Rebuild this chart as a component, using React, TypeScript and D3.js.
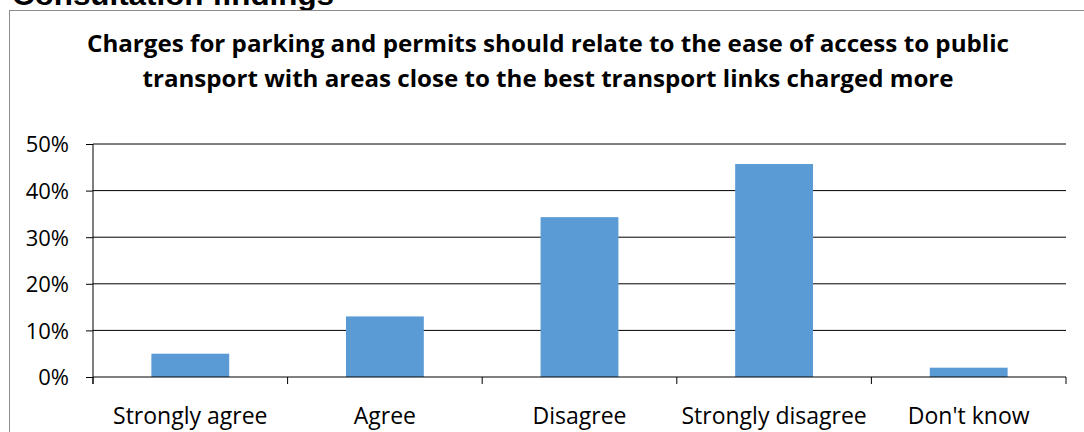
import { useEffect, useRef } from "react"
import * as d3 from "d3"

const categories = ["Strongly agree", "Agree", "Disagree", "Strongly disagree", "Don't know"]
const values = [5.0, 13.0, 34.3, 45.7, 2.0]
const yTicks = [0, 10, 20, 30, 40, 50]
const pageTitle = "Consultation findings"
const titleLines = [
  "Charges for parking and permits should relate to the ease of access to public",
  "transport with areas close to the best transport links charged more",
]

const W = 1084
const H = 432

const App = () => {
  const ref = useRef<SVGSVGElement>(null)

  useEffect(() => {
    const svg = d3.select(ref.current)
    svg.selectAll("*").remove()

    const margin = { top: 144, right: 18, bottom: 55, left: 93 }
    const innerW = W - margin.left - margin.right
    const innerH = H - margin.top - margin.bottom

    // page heading, partly cut off at the top
    svg.append("text")
      .attr("x", 12)
      .attr("y", 5)
      .attr("font-family", "Liberation Sans, Arial, sans-serif")
      .attr("font-weight", "bold")
      .attr("font-size", 30)
      .attr("textLength", 322)
      .attr("lengthAdjust", "spacingAndGlyphs")
      .attr("fill", "#000")
      .text(pageTitle)

    // chart frame
    svg.append("rect")
      .attr("x", 9.5)
      .attr("y", 10.5)
      .attr("width", W + 20)
      .attr("height", H + 20)
      .attr("fill", "none")
      .attr("stroke", "#8c8c8c")
      .attr("stroke-width", 1)

    const titleWidths = [922, 811]
    svg.append("g")
      .selectAll("text")
      .data(titleLines)
      .join("text")
      .attr("x", 548)
      .attr("y", (d, i) => 52 + i * 35)
      .attr("text-anchor", "middle")
      .attr("font-family", "Open Sans, sans-serif")
      .attr("font-weight", "bold")
      .attr("font-size", 24)
      .attr("textLength", (d, i) => titleWidths[i])
      .attr("lengthAdjust", "spacingAndGlyphs")
      .attr("fill", "#000")
      .text(d => d)

    const x = d3.scaleBand<string>()
      .domain(categories)
      .range([0, innerW])
      .paddingInner(0.6)
      .paddingOuter(0.3)

    const y = d3.scaleLinear().domain([0, 50]).range([innerH, 0])

    const g = svg.append("g").attr("transform", `translate(${margin.left},${margin.top})`)

    // gridlines
    g.append("g")
      .selectAll("line")
      .data(yTicks.filter(t => t > 0))
      .join("line")
      .attr("x1", 0)
      .attr("x2", innerW)
      .attr("y1", d => y(d))
      .attr("y2", d => y(d))
      .attr("stroke", "#000")
      .attr("stroke-width", 1)

    // bars
    g.selectAll(".bar")
      .data(values)
      .join("rect")
      .attr("class", "bar")
      .attr("x", (d, i) => x(categories[i]) as number)
      .attr("y", d => y(d))
      .attr("width", x.bandwidth())
      .attr("height", d => innerH - y(d))
      .attr("fill", "#5b9bd5")

    // y axis
    const yAxis = g.append("g")
      .call(d3.axisLeft(y).tickValues(yTicks).tickSize(7).tickPadding(17).tickFormat(d => d + "%"))
    yAxis.select(".domain").attr("stroke", "#000").attr("d", `M0,${innerH + 7}V0`)
    yAxis.selectAll(".tick line").attr("stroke", "#000")
    yAxis.selectAll(".tick text")
      .attr("font-family", "Open Sans, sans-serif")
      .attr("font-size", 22)
      .attr("fill", "#000")
      .attr("dy", "0.36em")

    // x axis with ticks between categories
    const xAxis = g.append("g").attr("transform", `translate(0,${innerH})`)
    xAxis.append("line")
      .attr("x1", 0).attr("x2", innerW)
      .attr("y1", 0).attr("y2", 0)
      .attr("stroke", "#000")
    const step = x.step()
    xAxis.selectAll(".xtick")
      .data(d3.range(categories.length + 1))
      .join("line")
      .attr("class", "xtick")
      .attr("x1", i => i * step)
      .attr("x2", i => i * step)
      .attr("y1", 0)
      .attr("y2", 7)
      .attr("stroke", "#000")
    xAxis.selectAll(".xlabel")
      .data(categories)
      .join("text")
      .attr("class", "xlabel")
      .attr("x", d => (x(d) as number) + x.bandwidth() / 2)
      .attr("y", 47)
      .attr("text-anchor", "middle")
      .attr("font-family", "Open Sans, sans-serif")
      .attr("font-size", 23)
      .attr("fill", "#000")
      .text(d => d)
  }, [])

  return (
    <div style={{ position: "absolute", left: 0, top: 0 }}>
      <svg ref={ref} width={W} height={H} style={{ display: "block", background: "#fff" }} />
    </div>
  )
}

export default App
